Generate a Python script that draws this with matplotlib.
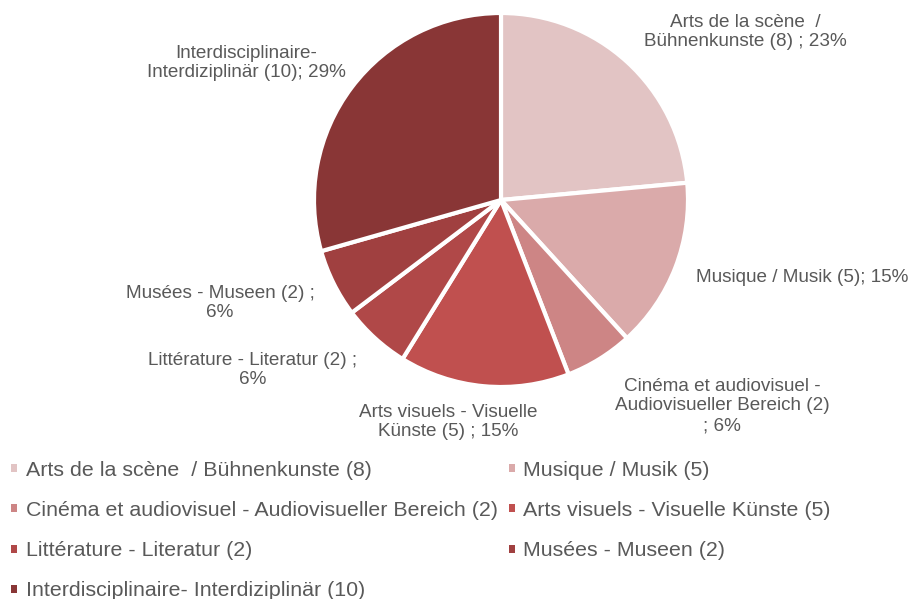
import matplotlib
matplotlib.use("Agg")
import matplotlib.pyplot as plt
from matplotlib.patches import Patch

plt.rcParams['font.family'] = ['Liberation Sans', 'DejaVu Sans']

categories = [
    "Arts de la scène  / Bühnenkunste (8)",
    "Musique / Musik (5)",
    "Cinéma et audiovisuel - Audiovisueller Bereich (2)",
    "Arts visuels - Visuelle Künste (5)",
    "Littérature - Literatur (2)",
    "Musées - Museen (2)",
    "Interdisciplinaire- Interdiziplinär (10)",
]
values = [8, 5, 2, 5, 2, 2, 10]
colors = ["#E2C4C4", "#DAAAAA", "#CD8585", "#C0504F", "#B04848", "#A04040", "#893636"]
data_labels = [
    "Arts de la scène  /\nBühnenkunste (8) ; 23%",
    "Musique / Musik (5); 15%",
    "Cinéma et audiovisuel -\nAudiovisueller Bereich (2)\n; 6%",
    "Arts visuels - Visuelle\nKünste (5) ; 15%",
    "Littérature - Literatur (2) ;\n6%",
    "Musées - Museen (2) ;\n6%",
    "Interdisciplinaire-\nInterdiziplinär (10); 29%",
]
# label centres in pixels (x from left, y from top)
label_pos = [(745, 32), (802, 278), (722, 406), (448, 422), (253, 370), (220, 303), (246, 63)]

W, H = 909, 599
fig = plt.figure(figsize=(W / 100, H / 100), dpi=100)
cx, cy, r = 501, 200, 187
ax = fig.add_axes([(cx - r) / W, (H - cy - r) / H, 2 * r / W, 2 * r / H])
ax.pie(values, colors=colors, startangle=90, counterclock=False,
       wedgeprops=dict(edgecolor="white", linewidth=3), radius=1)
ax.set_xlim(-1, 1)
ax.set_ylim(-1, 1)
ax.set_aspect('equal')
ax.axis('off')

text_color = "#595959"
for lab, (px, py) in zip(data_labels, label_pos):
    fig.text(px / W, 1 - py / H, lab, ha='center', va='center', fontsize=13.6,
             color=text_color, linespacing=1.22)

handles = [Patch(facecolor=c, edgecolor='none') for c in colors]
order = [0, 2, 4, 6, 1, 3, 5]
leg = fig.legend([handles[i] for i in order], [categories[i] for i in order],
                 ncol=2, loc='upper left', bbox_to_anchor=(-0.004, 1 - 446 / H),
                 frameon=False, fontsize=15.4, handlelength=0.28, handleheight=0.2,
                 handletextpad=0.4, columnspacing=0.5, labelspacing=0.99,
                 borderaxespad=0.3)
for t in leg.get_texts():
    t.set_color(text_color)

fig.savefig("out.png", dpi=100, facecolor="white")
